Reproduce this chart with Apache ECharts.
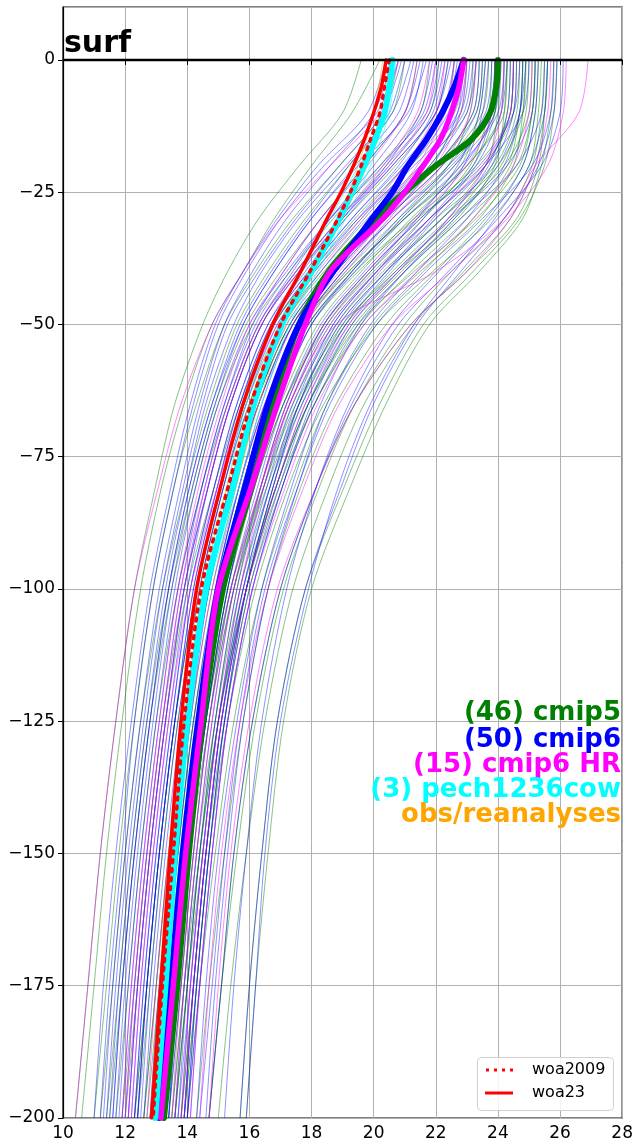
<!DOCTYPE html>
<html><head><meta charset="utf-8">
<script src="https://cdn.jsdelivr.net/npm/echarts@6/dist/echarts.min.js"></script>
<style>html,body{margin:0;padding:0;background:#fff}#c{width:636px;height:1147px}</style>
</head><body><div id="c"></div>
<script>
// depth levels (m)
const depthsThin = [0,-10,-20,-30,-40,-50,-65,-80,-100,-125,-150,-175,-200];
const depthsMean = [0,-5,-10,-15,-20,-25,-30,-40,-50,-65,-80,-100,-125,-150,-175,-200];
const xTicks = [10,12,14,16,18,20,22,24,26,28];
const yTicks = [0,-25,-50,-75,-100,-125,-150,-175,-200];
const zeroLineX = [10, 28];

// (46) cmip5 members
const cmip5Members = [
[24.3,24.2,23.0,21.2,19.6,18.2,17.0,16.2,15.3,14.6,14.1,13.7,13.3],
[25.2,25.1,24.6,23.0,21.2,19.6,18.1,17.0,15.9,15.0,14.4,13.9,13.5],
[23.5,23.3,22.0,20.2,18.6,17.3,16.2,15.4,14.6,13.9,13.4,13.0,12.6],
[24.8,24.7,24.3,22.8,21.0,19.4,17.9,16.9,15.9,15.0,14.5,14.0,13.6],
[20.2,19.3,18.0,16.8,15.8,14.8,13.9,13.2,12.5,11.9,11.4,11.0,10.6],
[25.5,25.4,25.1,24.2,22.5,21.0,19.4,18.3,17.1,16.2,15.6,15.1,14.7],
[23.9,23.8,22.4,20.6,19.0,17.7,16.6,15.8,15.0,14.3,13.8,13.4,13.0],
[24.5,24.4,23.6,21.8,20.0,18.5,17.1,16.2,15.2,14.4,13.8,13.3,12.9],
[22.6,22.3,21.0,19.4,18.0,16.8,15.7,14.9,14.0,13.3,12.8,12.4,12.0],
[25.8,25.7,25.4,24.8,23.4,21.8,20.4,19.3,18.0,17.1,16.6,16.2,15.9],
[24.0,23.9,23.2,21.5,19.8,18.4,17.2,16.4,15.6,14.9,14.4,14.0,13.6],
[23.2,23.0,21.5,19.8,18.3,17.0,15.9,15.1,14.3,13.6,13.1,12.7,12.3],
[24.9,24.8,24.0,22.2,20.3,18.8,17.4,16.5,15.5,14.7,14.2,13.8,13.4],
[21.0,20.6,19.2,17.8,16.6,15.6,14.7,14.0,13.2,12.5,12.0,11.6,11.2],
[25.3,25.2,24.8,23.6,22.0,20.4,18.8,17.7,16.6,15.8,15.2,14.7,14.3],
[23.7,23.5,22.2,20.4,18.8,17.4,16.3,15.6,14.8,14.1,13.6,13.2,12.8],
[24.6,24.5,23.5,21.4,19.5,18.0,16.8,16.0,15.1,14.4,13.9,13.5,13.1],
[22.1,21.8,20.4,18.9,17.5,16.3,15.3,14.5,13.7,13.0,12.5,12.1,11.7],
[25.0,24.9,24.4,23.2,21.6,20.0,18.5,17.5,16.4,15.5,14.9,14.4,14.0],
[24.2,24.1,23.0,21.0,19.2,17.8,16.7,15.9,15.0,14.2,13.7,13.3,12.9],
[19.6,19.0,17.6,16.3,15.3,14.5,13.6,13.0,12.3,11.7,11.2,10.8,10.4],
[25.6,25.5,25.2,24.4,22.9,21.3,19.7,18.6,17.4,16.5,15.9,15.4,15.0],
[23.0,22.8,21.8,20.0,18.4,17.1,16.0,15.2,14.4,13.7,13.2,12.8,12.4],
[24.4,24.3,23.8,22.5,20.7,19.0,17.5,16.5,15.4,14.6,14.0,13.6,13.2],
[25.1,25.0,24.2,22.4,20.6,19.1,17.7,16.7,15.7,14.9,14.3,13.9,13.5],
[21.8,21.5,20.2,18.7,17.3,16.1,15.0,14.3,13.5,12.8,12.3,11.9,11.5],
[24.1,24.0,23.6,22.2,20.4,18.9,17.6,16.8,15.9,15.2,14.7,14.3,13.9],
[23.6,23.4,22.8,21.0,19.2,17.7,16.5,15.7,14.9,14.2,13.7,13.3,12.9],
[25.4,25.3,25.0,23.8,21.9,20.1,18.4,17.3,16.2,15.3,14.7,14.3,13.9],
[22.9,22.6,21.2,19.6,18.1,16.8,15.8,15.1,14.3,13.6,13.1,12.7,12.3],
[24.7,24.6,23.9,22.0,20.1,18.6,17.3,16.4,15.4,14.6,14.0,13.6,13.2],
[20.8,20.3,18.9,17.4,16.2,15.2,14.3,13.6,12.9,12.3,11.8,11.4,11.0],
[25.9,25.8,25.5,24.7,23.2,21.6,20.2,19.1,17.8,16.9,16.4,16.0,15.7],
[24.0,23.9,22.6,20.8,19.1,17.7,16.6,15.9,15.1,14.4,13.9,13.5,13.1],
[23.3,23.1,22.4,20.9,19.3,17.9,16.7,15.9,15.0,14.3,13.8,13.4,13.0],
[24.9,24.8,24.5,23.4,21.5,19.7,18.1,17.1,16.0,15.2,14.6,14.2,13.8],
[22.4,22.0,20.7,19.1,17.6,16.4,15.4,14.7,13.9,13.2,12.7,12.3,11.9],
[25.2,25.1,24.7,23.3,21.3,19.5,17.9,16.9,15.8,15.0,14.4,14.0,13.6],
[23.8,23.7,23.1,21.6,19.9,18.4,17.1,16.2,15.3,14.6,14.1,13.7,13.3],
[24.5,24.4,23.3,21.3,19.4,17.9,16.7,15.9,15.0,14.3,13.8,13.4,13.0],
[21.4,21.0,19.7,18.3,17.0,15.9,14.9,14.2,13.4,12.7,12.2,11.8,11.4],
[25.6,25.5,25.3,24.6,23.0,21.2,19.4,18.2,17.0,16.1,15.5,15.1,14.7],
[24.3,24.2,23.9,22.7,20.8,19.1,17.6,16.6,15.5,14.7,14.1,13.7,13.3],
[23.4,23.2,22.0,20.3,18.7,17.4,16.3,15.5,14.7,14.0,13.5,13.1,12.7],
[24.8,24.7,24.1,22.6,20.9,19.3,17.9,16.9,15.9,15.1,14.6,14.2,13.8],
[22.8,22.5,21.6,20.1,18.6,17.3,16.2,15.4,14.6,13.9,13.4,13.0,12.6]
];

// (50) cmip6 members
const cmip6Members = [
[22.5,22.0,20.6,19.0,17.6,16.4,15.4,14.7,13.9,13.3,12.8,12.4,12.1],
[23.8,23.6,22.4,20.8,19.3,18.0,16.9,16.1,15.3,14.6,14.1,13.7,13.4],
[21.2,20.6,19.1,17.6,16.4,15.5,14.6,14.0,13.3,12.7,12.2,11.8,11.5],
[24.6,24.5,23.8,22.2,20.4,18.9,17.6,16.7,15.8,15.0,14.5,14.1,13.7],
[22.0,21.6,20.3,18.6,17.2,16.0,15.0,14.3,13.6,13.0,12.5,12.1,11.8],
[25.5,25.4,24.6,22.8,21.0,19.5,18.1,17.1,16.1,15.3,14.8,14.4,14.0],
[20.8,20.1,18.4,17.0,15.9,15.0,14.2,13.6,12.9,12.3,11.9,11.5,11.2],
[23.2,22.9,21.6,20.0,18.5,17.2,16.2,15.5,14.7,14.1,13.6,13.2,12.9],
[24.1,23.9,22.9,21.3,19.7,18.3,17.1,16.3,15.4,14.7,14.2,13.8,13.4],
[26.1,26.0,25.4,24.0,22.4,20.8,19.3,18.2,17.0,16.1,15.5,15.1,14.7],
[21.7,21.1,19.5,18.0,16.8,15.8,14.8,14.1,13.4,12.8,12.3,11.9,11.6],
[22.8,22.4,21.2,19.7,18.3,17.1,16.0,15.2,14.4,13.7,13.2,12.8,12.5],
[23.5,23.3,22.2,20.4,18.8,17.4,16.3,15.5,14.7,14.0,13.5,13.1,12.8],
[25.0,24.8,23.6,21.8,20.1,18.7,17.4,16.6,15.7,15.0,14.5,14.1,13.8],
[20.4,19.8,18.2,16.9,15.8,14.9,14.1,13.5,12.8,12.2,11.7,11.3,11.0],
[24.3,24.1,23.3,21.9,20.4,19.0,17.7,16.8,15.9,15.1,14.6,14.2,13.9],
[22.2,21.8,20.5,18.9,17.5,16.4,15.4,14.7,14.0,13.4,12.9,12.5,12.2],
[23.9,23.7,22.6,20.9,19.3,17.9,16.8,16.0,15.2,14.5,14.0,13.6,13.3],
[25.3,25.2,24.8,23.7,22.1,20.6,19.2,18.2,17.2,16.4,15.9,15.5,15.2],
[21.5,21.0,19.7,18.3,17.1,16.1,15.2,14.5,13.8,13.2,12.7,12.3,12.0],
[22.9,22.7,21.9,20.5,19.0,17.7,16.6,15.8,15.0,14.3,13.8,13.4,13.1],
[24.7,24.5,23.4,21.5,19.8,18.4,17.2,16.4,15.5,14.8,14.3,13.9,13.6],
[23.1,22.8,21.3,19.5,18.0,16.8,15.8,15.1,14.3,13.6,13.1,12.7,12.4],
[25.8,25.7,25.1,23.5,21.7,20.1,18.6,17.6,16.5,15.7,15.2,14.8,14.4],
[21.9,21.5,20.4,19.0,17.7,16.6,15.6,14.9,14.1,13.5,13.0,12.6,12.3],
[23.6,23.4,22.7,21.4,19.9,18.5,17.3,16.5,15.6,14.9,14.4,14.0,13.7],
[20.6,20.0,18.6,17.2,16.1,15.2,14.4,13.8,13.1,12.5,12.0,11.6,11.3],
[24.9,24.7,24.0,22.6,21.0,19.6,18.3,17.4,16.4,15.6,15.0,14.6,14.3],
[22.3,21.9,20.8,19.3,17.9,16.7,15.7,15.0,14.2,13.6,13.1,12.7,12.4],
[23.4,23.2,22.0,20.2,18.6,17.3,16.2,15.4,14.6,14.0,13.5,13.1,12.8],
[25.6,25.5,25.0,23.9,22.6,21.3,19.9,18.9,17.9,17.0,16.5,16.2,15.9],
[21.0,20.5,19.2,17.9,16.7,15.7,14.8,14.1,13.4,12.8,12.3,11.9,11.6],
[24.0,23.8,22.5,20.6,19.0,17.7,16.6,15.8,15.0,14.3,13.8,13.5,13.2],
[22.7,22.3,21.0,19.5,18.1,16.9,15.9,15.2,14.4,13.8,13.3,12.9,12.6],
[24.4,24.3,23.7,22.4,20.8,19.3,18.0,17.1,16.1,15.3,14.8,14.4,14.1],
[21.3,20.8,19.4,18.0,16.8,15.8,14.9,14.2,13.5,12.9,12.4,12.0,11.7],
[23.0,22.7,21.5,20.0,18.6,17.4,16.4,15.7,14.9,14.3,13.8,13.4,13.1],
[25.2,25.1,24.3,22.5,20.7,19.2,17.9,17.0,16.0,15.2,14.7,14.3,14.0],
[22.1,21.7,20.2,18.6,17.3,16.2,15.2,14.5,13.7,13.1,12.6,12.2,11.9],
[23.7,23.5,22.9,21.6,20.1,18.7,17.5,16.7,15.8,15.1,14.6,14.2,13.9],
[24.8,24.7,24.2,23.0,21.4,19.9,18.5,17.6,16.6,15.8,15.3,14.9,14.6],
[20.9,20.3,18.9,17.5,16.3,15.3,14.5,13.9,13.2,12.6,12.1,11.7,11.4],
[23.3,23.0,21.8,20.2,18.8,17.6,16.5,15.7,14.9,14.2,13.7,13.3,13.0],
[24.2,24.0,22.8,21.0,19.4,18.0,16.9,16.1,15.3,14.6,14.1,13.7,13.4],
[22.6,22.2,20.9,19.3,17.9,16.7,15.7,15.0,14.2,13.6,13.1,12.7,12.4],
[25.9,25.8,25.3,24.2,22.8,21.4,20.0,19.0,17.8,16.9,16.4,16.0,15.7],
[21.6,21.2,20.0,18.6,17.4,16.3,15.3,14.6,13.9,13.3,12.8,12.4,12.1],
[23.9,23.8,23.2,21.8,20.2,18.8,17.6,16.8,15.9,15.2,14.7,14.3,14.0],
[22.4,22.0,20.6,19.1,17.8,16.6,15.6,14.9,14.1,13.5,13.0,12.6,12.3],
[24.5,24.4,23.6,22.0,20.5,19.1,17.8,16.9,15.9,15.1,14.6,14.2,13.9]
];

// (15) cmip6 HR members
const cmip6hrMembers = [
[26.9,26.6,25.2,24.2,22.0,18.8,17.3,16.5,15.7,15.0,14.5,14.1,13.8],
[22.0,21.7,20.5,19.0,17.6,16.4,15.4,14.7,13.9,13.3,12.8,12.4,12.1],
[24.5,24.4,23.5,21.8,20.1,18.6,17.3,16.4,15.4,14.7,14.2,13.8,13.5],
[20.8,20.2,18.6,17.0,15.8,14.8,13.8,13.1,12.3,11.7,11.2,10.8,10.4],
[23.3,23.1,22.2,20.6,19.1,17.8,16.7,15.9,15.0,14.3,13.8,13.4,13.1],
[25.7,25.6,25.2,24.4,23.0,21.2,19.4,18.2,16.9,16.0,15.4,15.0,14.7],
[21.4,21.0,19.8,18.3,17.1,16.0,15.1,14.4,13.7,13.1,12.6,12.2,11.9],
[23.9,23.8,23.0,21.4,19.8,18.4,17.2,16.4,15.5,14.8,14.3,13.9,13.6],
[22.6,22.3,21.4,20.0,18.6,17.4,16.3,15.5,14.6,13.9,13.4,13.0,12.7],
[25.1,25.0,24.5,23.2,21.4,19.7,18.2,17.2,16.1,15.3,14.8,14.4,14.1],
[21.8,21.4,20.3,18.9,17.5,16.3,15.3,14.6,13.8,13.2,12.7,12.3,12.0],
[24.2,24.1,23.6,22.4,20.8,19.2,17.8,16.9,15.9,15.1,14.6,14.2,13.9],
[23.0,22.8,22.0,20.4,18.9,17.6,16.5,15.7,14.8,14.1,13.6,13.2,12.9],
[26.2,26.1,25.6,24.3,22.5,20.6,18.9,17.8,16.6,15.7,15.1,14.7,14.4],
[22.3,22.0,21.0,19.6,18.2,16.9,15.8,15.0,14.1,13.4,12.9,12.5,12.2]
];

// (3) pech1236cow members
const pechMembers = [
[20.5,20.3,19.5,18.6,17.7,16.8,15.9,15.3,14.5,13.9,13.5,13.2,12.9],
[20.7,20.5,19.9,19.1,18.2,17.3,16.4,15.7,14.7,14.1,13.7,13.4,13.1],
[20.6,20.4,19.7,18.8,17.9,17.0,16.1,15.5,14.6,14.0,13.6,13.3,13.0]
];

// obs / reanalyses
const obsMembers = [
[20.3,20.0,19.5,18.9,18.0,17.0,16.0,15.3,14.4,13.8,13.4,13.1,12.8],
[20.6,20.4,19.8,19.0,18.1,17.2,16.3,15.6,14.6,14.0,13.6,13.2,12.9]
];

// ensemble means / references (on depthsMean)
const cmip5Mean   = [24.0,23.95,23.75,23.15,22.0,21.0,20.05,18.55,17.6,16.75,16.1,15.15,14.5,14.05,13.68,13.25];
const cmip6Mean   = [22.9,22.6,22.2,21.7,21.1,20.6,19.95,18.7,17.6,16.6,15.9,15.0,14.35,13.85,13.47,13.1];
const cmip6hrMean = [22.9,22.75,22.5,22.15,21.6,21.0,20.3,18.6,17.8,16.9,16.1,15.0,14.45,13.95,13.55,13.15];
const pechMean    = [20.6,20.5,20.35,20.05,19.7,19.3,18.9,18.0,17.05,16.15,15.5,14.6,14.0,13.6,13.3,12.97];
const woa2009     = [20.5,20.35,20.2,19.9,19.6,19.25,18.85,17.95,17.0,16.05,15.35,14.45,13.9,13.55,13.2,12.9];
const woa23       = [20.4,20.25,20.0,19.7,19.35,18.95,18.5,17.65,16.75,15.8,15.1,14.3,13.8,13.45,13.15,12.85];

const groupLabels = ['(46) cmip5','(50) cmip6','(15) cmip6 HR','(3) pech1236cow','obs/reanalyses'];
const groupColors = ['#008000','#0000ff','#ff00ff','#00ffff','#ffa500'];
const legendNames = ['woa2009','woa23'];

const FONT = 'DejaVu Sans';
const series = [];
function thin(members, color, opacity, width) {
  members.forEach(vals => {
    series.push({
      type: 'line', silent: true, symbol: 'none', smooth: 0.3,
      data: depthsThin.map((d, i) => [vals[i], d]),
      lineStyle: { color: color, width: width, opacity: opacity }, z: 2
    });
  });
}
thin(cmip5Members, '#008000', 0.6, 0.8);
thin(cmip6Members, '#0000ff', 0.55, 0.8);
thin(cmip6hrMembers, '#ff00ff', 0.6, 0.8);
thin(pechMembers, '#00ffff', 0.7, 0.8);
thin(obsMembers, '#ffa500', 0.6, 0.8);

function mean(name, vals, color, width, type, z) {
  series.push({
    name: name, type: 'line', silent: true, symbol: 'none', smooth: 0.3,
    data: depthsMean.map((d, i) => [vals[i], d]),
    lineStyle: { color: color, width: width, type: type || 'solid', cap: 'round', join: 'round' },
    itemStyle: { color: color }, z: z
  });
}
mean('cmip5 mean', cmip5Mean, '#008000', 6, 'solid', 5);
mean('cmip6 mean', cmip6Mean, '#0000ff', 6, 'solid', 6);
mean('cmip6 HR mean', cmip6hrMean, '#ff00ff', 5.5, 'solid', 7);
mean('pech mean', pechMean, '#00ffff', 6, 'solid', 8);
mean(legendNames[0], woa2009, '#ff0000', 3.5, [3, 6], 9);
mean(legendNames[1], woa23, '#ff0000', 3.5, 'solid', 10);

series.push({
  type: 'line', silent: true, symbol: 'none',
  data: zeroLineX.map(x => [x, 0]),
  lineStyle: { color: '#000', width: 2.5 }, z: 11
});

// legend box (decoration)
const legendGraphic = [
  { type: 'rect', z: 100, shape: { x: 477.5, y: 1057.5, width: 136, height: 53, r: 4 },
    style: { fill: 'rgba(255,255,255,0.85)', stroke: '#d0d0d0', lineWidth: 1 } },
  { type: 'line', z: 101, shape: { x1: 486, y1: 1070, x2: 513, y2: 1070 },
    style: { stroke: '#ff0000', lineWidth: 3, lineDash: [3, 5] } },
  { type: 'line', z: 101, shape: { x1: 485, y1: 1093, x2: 513, y2: 1093 },
    style: { stroke: '#ff0000', lineWidth: 3 } },
  { type: 'text', z: 101, x: 532, y: 1070, style: { text: legendNames[0], font: '16px "DejaVu Sans"', fill: '#000', textVerticalAlign: 'middle' } },
  { type: 'text', z: 101, x: 532, y: 1093, style: { text: legendNames[1], font: '16px "DejaVu Sans"', fill: '#000', textVerticalAlign: 'middle' } }
];

const chart = echarts.init(document.getElementById('c'), null, { renderer: 'canvas' });
chart.setOption({
  animation: false,
  backgroundColor: '#fff',
  grid: { left: 63, right: 9, top: 7, bottom: 29, show: true, borderColor: '#000', borderWidth: 1.2, containLabel: false },
  xAxis: {
    type: 'value', min: xTicks[0], max: xTicks[xTicks.length - 1], interval: 2,
    axisLine: { show: true, lineStyle: { color: '#000', width: 1.2 } },
    axisTick: { show: true, inside: false, length: 5, lineStyle: { color: '#000' } },
    axisLabel: { color: '#000', fontFamily: FONT, fontSize: 17, margin: 7, showMinLabel: true, showMaxLabel: true },
    splitLine: { show: true, lineStyle: { color: '#b0b0b0', width: 1 } }
  },
  yAxis: {
    type: 'value', min: yTicks[yTicks.length - 1], max: 10, interval: 25,
    axisLine: { show: true, onZero: false, lineStyle: { color: '#000', width: 1.2 } },
    axisTick: { show: true, inside: false, length: 5, lineStyle: { color: '#000' } },
    axisLabel: { color: '#000', fontFamily: FONT, fontSize: 17, margin: 8, showMaxLabel: false,
      formatter: v => (yTicks.indexOf(v) < 0 ? '' : String(v).replace('-', '\u2212')) },
    splitLine: { show: true, lineStyle: { color: '#b0b0b0', width: 1 } }
  },
  graphic: [
    { type: 'text', left: 64, top: 29, z: 100, style: { text: 'surf', font: 'bold 30px "DejaVu Sans"', fill: '#000' } }
  ].concat(groupLabels.map((t, i) => ({
    type: 'text', z: 100, x: 621, y: [713, 740, 765, 790, 815][i],
    style: { text: t, font: 'bold 26px "DejaVu Sans"', fill: groupColors[i], textAlign: 'right', textVerticalAlign: 'middle' }
  }))).concat(legendGraphic),
  series: series
});
</script></body></html>
